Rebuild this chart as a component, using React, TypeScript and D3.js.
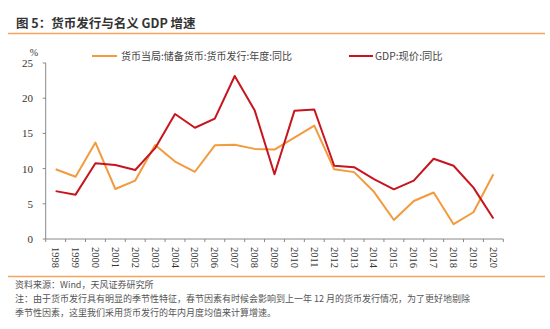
import React from "react";
import * as d3 from "d3";

const years = ["1998","1999","2000","2001","2002","2003","2004","2005","2006","2007","2008","2009","2010","2011","2012","2013","2014","2015","2016","2017","2018","2019","2020"];
const currency = [9.9,8.85,13.7,7.1,8.3,13.35,11.0,9.55,13.3,13.4,12.8,12.7,14.4,16.1,9.9,9.5,6.7,2.7,5.4,6.6,2.1,3.8,9.2];
const gdp = [6.8,6.3,10.75,10.5,9.8,12.9,17.75,15.8,17.1,23.15,18.3,9.2,18.2,18.4,10.4,10.2,8.5,7.05,8.3,11.4,10.4,7.3,2.9];
const yTicks = [0,5,10,15,20,25];
const seriesNames = ["货币当局:储备货币:货币发行:年度:同比","GDP:现价:同比"];
const colors = ["#F39A3D","#C8141E"];

export default function App() {
  const W = 550, H = 329;
  const left = 45.7, right = 503.3, top = 63, bottom = 239;
  const x = d3.scaleBand<string>().domain(years).range([left, right]);
  const y = d3.scaleLinear().domain([0, 25]).range([bottom, top]);
  const line = d3.line<number>().x((_, i) => (x(years[i]) as number) + x.bandwidth() / 2).y(d => y(d));
  const serif = "'Liberation Serif', 'DejaVu Serif', serif";
  const cjk = "'Noto Sans CJK SC', sans-serif";
  const boundaries = years.map(yr => x(yr) as number).concat([right]);
  return (
    <svg width={W} height={H} style={{ position: "absolute", left: 0, top: 0, background: "#fff" }}>
      <text x={16} y={28} fontFamily={cjk} fontWeight="bold" fontSize={12.5} fill="#333">图 5：货币发行与名义 GDP 增速</text>
      <line x1={8} x2={545} y1={33.5} y2={33.5} stroke="#F5A45E" strokeWidth={1.5} />
      {/* legend */}
      <line x1={92} x2={117} y1={56} y2={56} stroke={colors[0]} strokeWidth={2} />
      <text x={121} y={60} fontFamily={cjk} fontSize={10} fill="#444">{seriesNames[0]}</text>
      <line x1={349} x2={373} y1={56} y2={56} stroke={colors[1]} strokeWidth={2} />
      <text x={375} y={60} fontFamily={cjk} fontSize={10.3} fill="#444">{seriesNames[1]}</text>
      {/* y axis */}
      <text x={34} y={56} fontFamily={serif} fontSize={10} fill="#333" textAnchor="middle">%</text>
      <line x1={left} x2={left} y1={top} y2={bottom} stroke="#888" strokeWidth={1} />
      {yTicks.map(t => (
        <g key={t}>
          <line x1={left - 3} x2={left} y1={y(t)} y2={y(t)} stroke="#888" />
          <text x={33} y={y(t) + 4} fontFamily={serif} fontSize={11} fill="#333" textAnchor="end">{t}</text>
        </g>
      ))}
      {/* x axis */}
      <line x1={left} x2={right} y1={bottom} y2={bottom} stroke="#888" strokeWidth={1} />
      {boundaries.map((b, i) => (
        <line key={i} x1={b} x2={b} y1={bottom} y2={bottom + 3} stroke="#888" />
      ))}
      {years.map(yr => {
        const cx = (x(yr) as number) + x.bandwidth() / 2;
        return (
          <text key={yr} transform={`translate(${cx - 3.5},247) rotate(90)`} fontFamily={serif} fontSize={10.5} fill="#333" textAnchor="start">{yr}</text>
        );
      })}
      {/* lines */}
      <path d={line(currency) || ""} fill="none" stroke={colors[0]} strokeWidth={2} strokeLinejoin="round" />
      <path d={line(gdp) || ""} fill="none" stroke={colors[1]} strokeWidth={2} strokeLinejoin="round" />
      {/* footer */}
      <line x1={8} x2={545} y1={276.5} y2={276.5} stroke="#F5A45E" strokeWidth={1.5} />
      <text x={15} y={288} fontFamily={cjk} fontSize={9} fill="#555">资料来源：Wind，天风证券研究所</text>
      <text x={15} y={302} fontFamily={cjk} fontSize={9} fill="#555">注：由于货币发行具有明显的季节性特征，春节因素有时候会影响到上一年 12 月的货币发行情况，为了更好地剔除</text>
      <text x={15} y={316} fontFamily={cjk} fontSize={9} fill="#555">季节性因素，这里我们采用货币发行的年内月度均值来计算增速。</text>
    </svg>
  );
}
